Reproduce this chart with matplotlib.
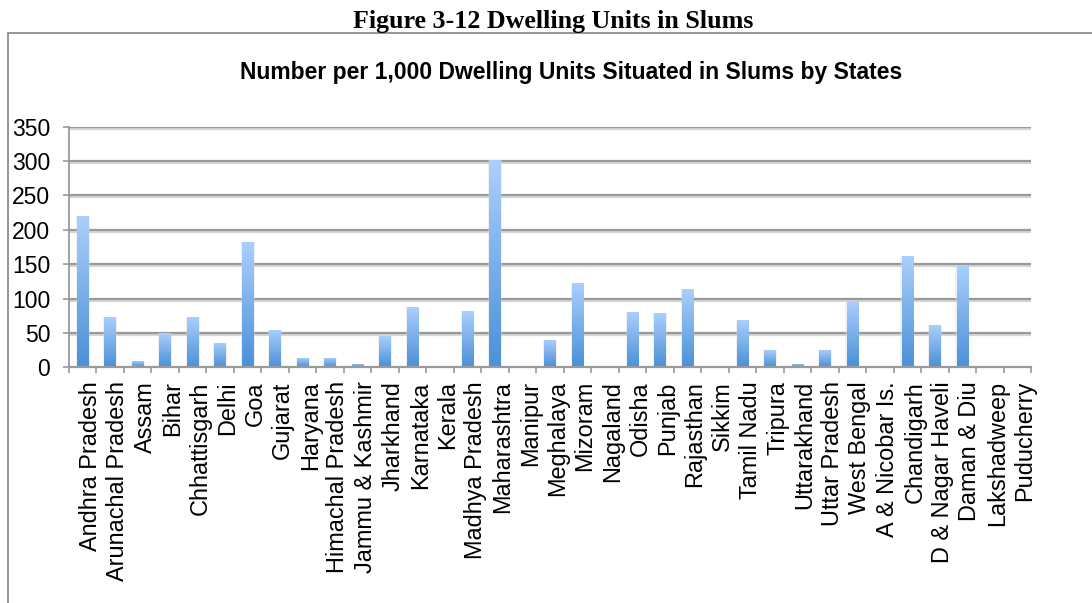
import numpy as np
import matplotlib
matplotlib.use("Agg")
import matplotlib.pyplot as plt
from matplotlib.patches import Rectangle
from matplotlib.colors import LinearSegmentedColormap
from matplotlib import transforms
import matplotlib.patheffects as pe

states = [
    "Andhra Pradesh", "Arunachal Pradesh", "Assam", "Bihar", "Chhattisgarh",
    "Delhi", "Goa", "Gujarat", "Haryana", "Himachal Pradesh",
    "Jammu & Kashmir", "Jharkhand", "Karnataka", "Kerala", "Madhya Pradesh",
    "Maharashtra", "Manipur", "Meghalaya", "Mizoram", "Nagaland",
    "Odisha", "Punjab", "Rajasthan", "Sikkim", "Tamil Nadu",
    "Tripura", "Uttarakhand", "Uttar Pradesh", "West Bengal", "A & Nicobar Is.",
    "Chandigarh", "D & Nagar Haveli", "Daman & Diu", "Lakshadweep", "Puducherry",
]
units_per_1000 = [
    220, 73, 9, 50, 73,
    36, 182, 54, 14, 14,
    5, 46, 88, 0, 82,
    301, 0, 40, 123, 0,
    80, 79, 114, 0, 69,
    25, 5, 25, 96, 0,
    162, 62, 147, 0, 1,
]
y_ticks = [0, 50, 100, 150, 200, 250, 300, 350]

W, H = 1092, 603
fig = plt.figure(figsize=(W / 100, H / 100), dpi=100)
fig.patch.set_facecolor("white")

# Chart frame (open to the right and bottom)
fig.add_artist(Rectangle((8 / W, -0.05), 1.2, 1 - 33 / H + 0.05,
                         transform=fig.transFigure, fill=False,
                         edgecolor="#8c8c8c", linewidth=1.3))

fig.text(553 / W, 1 - 28 / H, "Figure 3-12 Dwelling Units in Slums",
         family="Liberation Serif", weight="bold", fontsize=18.7,
         ha="center", va="baseline")
fig.text(571 / W, 1 - 79 / H,
         "Number per 1,000 Dwelling Units Situated in Slums by States",
         family="Liberation Sans", weight="bold", fontsize=16.5,
         ha="center", va="baseline")

ax = fig.add_axes([69 / W, 1 - 367.3 / H, 962 / W, (367.3 - 126.6) / H])
n = len(states)
x = np.arange(n)

# Soft halo behind each bar
ax.bar(x, units_per_1000, width=0.5, color="#d9d9d9", alpha=0.35,
       zorder=2.5, linewidth=0)
bars = ax.bar(x, units_per_1000, width=0.42, color="#5b9be0", zorder=3,
              linewidth=0)

cmap = LinearSegmentedColormap.from_list("bar", ["#4a90d9", "#acd0fc"])
grad = np.linspace(0, 1, 256).reshape(-1, 1)
for b in bars:
    h = b.get_height()
    if h <= 0:
        continue
    x0 = b.get_x()
    im = ax.imshow(grad, cmap=cmap, origin="lower", aspect="auto",
                   extent=(x0, x0 + b.get_width(), 0, h), zorder=4,
                   interpolation="bilinear")
    im.set_clip_path(b)
ax.set_xlim(-0.5, n - 0.5)
ax.set_ylim(0, 350)

# Gridlines with a faint drop shadow
ax.set_yticks(y_ticks)
for v in y_ticks[1:]:
    ax.axhline(v, color="#999999", linewidth=1.6, zorder=2,
               path_effects=[pe.SimpleLineShadow(offset=(0.5, -1.5),
                                                 shadow_color="#bbbbbb",
                                                 alpha=0.6),
                             pe.Normal()])

for side in ("top", "right"):
    ax.spines[side].set_visible(False)
ax.spines["left"].set_color("#9a9a9a")
ax.spines["left"].set_linewidth(1.3)
ax.spines["bottom"].set_color("#9a9a9a")
ax.spines["bottom"].set_linewidth(1.6)
ax.spines["bottom"].set_zorder(5)

ax.tick_params(axis="y", direction="out", length=4.5, width=1.2,
               color="#9a9a9a", pad=9, labelsize=16.5)
ax.set_yticklabels([str(v) for v in y_ticks], family="Liberation Sans")

# Category labels centred on categories; tick marks on the boundaries
ax.set_xticks(x)
ax.set_xticklabels(states, rotation=90, family="Liberation Sans",
                   fontsize=16.9, ha="center", va="top")
ax.tick_params(axis="x", which="major", length=0, pad=10)
offset = transforms.ScaledTranslation(5.5 / 72, 0, fig.dpi_scale_trans)
for lbl in ax.get_xticklabels():
    lbl.set_transform(lbl.get_transform() + offset)
ax.set_xticks(np.arange(n + 1) - 0.5, minor=True)
ax.tick_params(axis="x", which="minor", direction="out", length=4.5,
               width=1.2, color="#9a9a9a")

fig.savefig("out.png", dpi=100, facecolor="white")
